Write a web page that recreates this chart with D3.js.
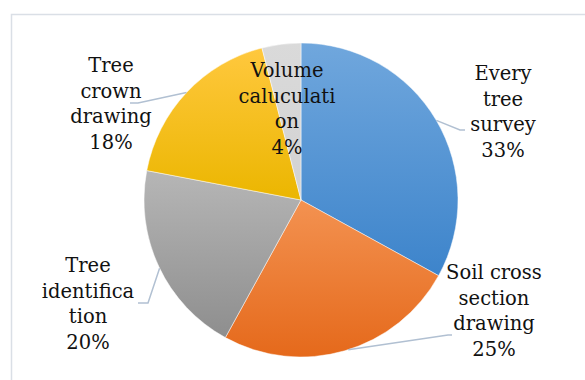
<!DOCTYPE html>
<html><head><meta charset="utf-8">
<script src="https://cdn.jsdelivr.net/npm/d3@7"></script>
<style>body{margin:0;background:#fff}svg{display:block}
.lbl{font-family:"DejaVu Serif","DejaVu Sans",sans-serif;}
</style>
</head><body>
<svg id="c" width="585" height="380"></svg>
<script>
const categories = ["Every tree survey", "Soil cross section drawing", "Tree identification", "Tree crown drawing", "Volume calculation"];
const values = [33, 25, 20, 18, 4];
const labelLines = [
  ["Every", "tree", "survey", "33%"],
  ["Soil cross", "section", "drawing", "25%"],
  ["Tree", "identifica", "tion", "20%"],
  ["Tree", "crown", "drawing", "18%"],
  ["Volume", "caluculati", "on", "4%"]
];
const colorsTop = ["#70a7dd", "#f39251", "#b6b6b6", "#ffc83e", "#dadada"];
const colorsBottom = ["#3d84cb", "#e5691b", "#8e8e8e", "#ebb600", "#d2d2d2"];

const svg = d3.select("#c");
svg.append("rect").attr("x", 11.5).attr("y", 14.5).attr("width", 600).attr("height", 400)
  .attr("fill", "#fff").attr("stroke", "#dadfe6").attr("stroke-width", 1.5);

const cx = 301, cy = 200, R = 157;
const defs = svg.append("defs");
colorsTop.forEach((c, i) => {
  const g = defs.append("linearGradient").attr("id", "g" + i)
    .attr("x1", 0).attr("y1", 0).attr("x2", 0).attr("y2", 1);
  g.append("stop").attr("offset", "0%").attr("stop-color", c);
  g.append("stop").attr("offset", "100%").attr("stop-color", colorsBottom[i]);
});

const pie = d3.pie().sort(null).value(d => d)(values);
const arc = d3.arc().innerRadius(0).outerRadius(R);
const g = svg.append("g").attr("transform", `translate(${cx},${cy})`);
g.selectAll("path").data(pie).join("path")
  .attr("d", arc)
  .attr("fill", (d, i) => `url(#g${i})`)
  .attr("stroke", "rgba(255,255,255,0.6)").attr("stroke-width", 0.8);

const labelPos = [
  {x: 503, y: 80},
  {x: 494, y: 279},
  {x: 88, y: 272},
  {x: 111, y: 72},
  {x: 287, y: 77}
];
const lh = 25.6;
const elbows = [
  [[460, 130], [465, 130]],
  [[448, 335], [452, 335]],
  [[148, 303], [138, 303]],
  [[138, 103], [130, 103]]
];
const edgeAngles = [
  Math.atan2(120 - cy, 437 - cx),
  Math.atan2(349 - cy, 348 - cx),
  Math.atan2(268 - cy, 160 - cx),
  Math.atan2(93 - cy, 187 - cx)
];
elbows.forEach((pts, i) => {
  const a = edgeAngles[i];
  const p0 = [cx + R * Math.cos(a), cy + R * Math.sin(a)];
  svg.append("polyline")
    .attr("points", [p0, ...pts].map(p => p.join(",")).join(" "))
    .attr("fill", "none").attr("stroke", "#b1c0d2").attr("stroke-width", 1.5);
});

labelLines.forEach((lines, i) => {
  const t = svg.append("text")
    .attr("class", "lbl")
    .attr("text-anchor", "middle")
    .style("font-size", "19.5px")
    .attr("fill", "#111");
  lines.forEach((s, j) => {
    t.append("tspan").attr("x", labelPos[i].x).attr("y", labelPos[i].y + j * lh).text(s);
  });
});
</script>
</body></html>
